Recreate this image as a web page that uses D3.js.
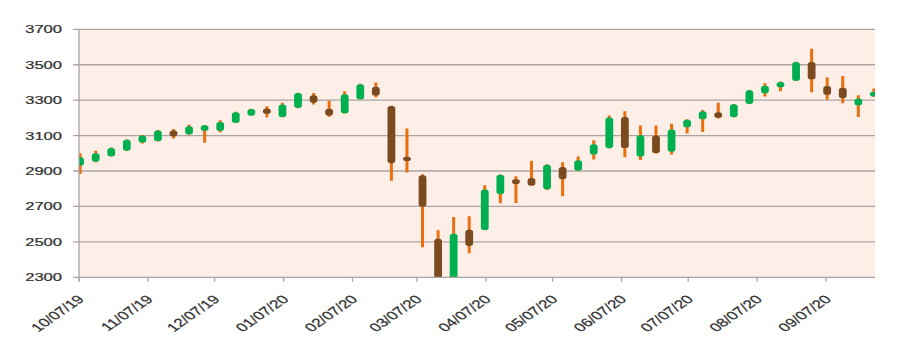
<!DOCTYPE html>
<html>
<head>
<meta charset="utf-8">
<script src="https://cdn.jsdelivr.net/npm/d3@7"></script>
<style>
  html, body { margin: 0; padding: 0; background: #ffffff; }
  svg { display: block; }
  text { font-family: "Liberation Sans", Arial, sans-serif; }
</style>
</head>
<body>
<svg id="chart" width="910" height="357"></svg>
<script>
// ---- data (weekly candles) ----
const dates = [
  "2019-10-07","2019-10-14","2019-10-21","2019-10-28","2019-11-04","2019-11-11","2019-11-18","2019-11-25",
  "2019-12-02","2019-12-09","2019-12-16","2019-12-23","2019-12-30","2020-01-06","2020-01-13","2020-01-20",
  "2020-01-27","2020-02-03","2020-02-10","2020-02-17","2020-02-24","2020-03-02","2020-03-09","2020-03-16",
  "2020-03-23","2020-03-30","2020-04-06","2020-04-13","2020-04-20","2020-04-27","2020-05-04","2020-05-11",
  "2020-05-18","2020-05-25","2020-06-01","2020-06-08","2020-06-15","2020-06-22","2020-06-29","2020-07-06",
  "2020-07-13","2020-07-20","2020-07-27","2020-08-03","2020-08-10","2020-08-17","2020-08-24","2020-08-31",
  "2020-09-07","2020-09-14","2020-09-21","2020-09-28"
];
const open  = [2931,2953,2983,3015,3061,3069,3129,3107,3127,3127,3172,3213,3253,3205,3257,3328,3252,3226,3305,3375,
               3267,2978,2876,2517,2290,2569,2567,2770,2853,2861,2797,2922,2902,2993,3029,3205,2982,3100,3009,3147,
               3192,3232,3204,3279,3339,3373,3409,3516,3380,3370,3271,3320];
const high  = [3000,3014,3033,3078,3104,3132,3137,3161,3160,3186,3234,3252,3266,3285,3342,3341,3297,3350,3392,3400,
               3268,3140,2882,2566,2641,2644,2820,2881,2870,2958,2938,2950,2982,3074,3213,3238,3157,3157,3167,3192,
               3244,3285,3278,3357,3395,3405,3517,3590,3428,3436,3327,3366];
const low   = [2883,2950,2982,3013,3056,3067,3084,3105,3060,3119,3171,3212,3204,3203,3255,3275,3207,3225,3304,3316,
               2845,2892,2470,2280,2190,2436,2566,2718,2720,2817,2793,2758,2900,2965,3028,2978,2962,2999,2993,3112,
               3120,3196,3203,3278,3320,3350,3408,3345,3302,3283,3205,3319];
const close = [2977,3000,3030,3076,3101,3129,3095,3153,3158,3176,3232,3250,3223,3276,3341,3286,3213,3333,3390,3326,
               2944,2958,2699,2296,2546,2477,2795,2879,2827,2818,2936,2854,2961,3051,3202,3030,3102,3001,3134,3190,
               3237,3200,3277,3356,3382,3403,3516,3418,3330,3311,3309,3347];

const yTicks = [2300, 2500, 2700, 2900, 3100, 3300, 3500, 3700];
const xTickLabels = ["10/07/19","11/07/19","12/07/19","01/07/20","02/07/20","03/07/20",
                     "04/07/20","05/07/20","06/07/20","07/07/20","08/07/20","09/07/20"];

// ---- layout ----
const L = 79, R = 875, T = 29.3, B = 277.3;
const svg = d3.select("#chart");
const parse = d3.utcParse("%Y-%m-%d");
const tickParse = d3.utcParse("%m/%d/%y");

const x = d3.scaleUtc()
  .domain([parse("2019-10-07"), parse("2020-09-29")])
  .range([L, R]);
const y = d3.scaleLinear().domain([2300, 3700]).range([B, T]);

const data = dates.map((d, i) => ({
  date: parse(d), o: open[i], h: high[i], l: low[i], c: close[i]
}));

// background
svg.append("rect").attr("x", L).attr("y", T).attr("width", R - L).attr("height", B - T)
  .attr("fill", "#fdeee8");

// clip
svg.append("defs").append("clipPath").attr("id", "plotclip")
  .append("rect").attr("x", L).attr("y", T).attr("width", R - L).attr("height", B - T);

const gridColor = "#aaa5a2";
// gridlines (with outward tick)
svg.append("g").selectAll("line").data(yTicks.filter(v => v !== 2300)).join("line")
  .attr("x1", L - 6).attr("x2", R)
  .attr("y1", d => y(d)).attr("y2", d => y(d))
  .attr("stroke", gridColor).attr("stroke-width", 1.3);

// y-axis labels
const sx = 1.44;
svg.append("g").selectAll("text").data(yTicks).join("text")
  .attr("transform", d => `translate(62,${y(d)}) scale(${sx},1)`)
  .attr("text-anchor", "end")
  .attr("dominant-baseline", "central")
  .attr("font-size", 11.5)
  .attr("fill", "#333333")
  .attr("stroke", "#333333").attr("stroke-width", 0.25)
  .text(d => d);

// candles
const g = svg.append("g").attr("clip-path", "url(#plotclip)");
const cx = d => x(d3.utcHour.offset(d.date, 12));
g.selectAll("line.wick").data(data).join("line")
  .attr("class", "wick")
  .attr("x1", cx).attr("x2", cx)
  .attr("y1", d => y(d.h)).attr("y2", d => y(d.l))
  .attr("stroke", "#ec6f0e").attr("stroke-width", 3);

const bw = 7.8;
g.selectAll("rect.body").data(data).join("rect")
  .attr("class", "body")
  .attr("x", d => cx(d) - bw / 2)
  .attr("width", bw)
  .attr("y", d => {
    const top = y(Math.max(d.o, d.c)), bot = y(Math.min(d.o, d.c));
    const hgt = Math.max(bot - top, 4.2);
    return (top + bot) / 2 - hgt / 2;
  })
  .attr("height", d => Math.max(y(Math.min(d.o, d.c)) - y(Math.max(d.o, d.c)), 4.2))
  .attr("rx", 3.2).attr("ry", 2.6)
  .attr("fill", d => d.c >= d.o ? "#00b050" : "#7c4a1f");

// axes lines
svg.append("line").attr("x1", L).attr("x2", L).attr("y1", T).attr("y2", B + 4)
  .attr("stroke", gridColor).attr("stroke-width", 1.3);
svg.append("line").attr("x1", L - 6).attr("x2", R).attr("y1", B).attr("y2", B)
  .attr("stroke", gridColor).attr("stroke-width", 1.3);

// x ticks & labels
const xt = xTickLabels.map(s => tickParse(s));
svg.append("g").selectAll("line").data(xt).join("line")
  .attr("x1", d => x(d)).attr("x2", d => x(d))
  .attr("y1", B).attr("y2", B + 4.5)
  .attr("stroke", gridColor).attr("stroke-width", 1.3);

const fmt = d3.utcFormat("%m/%d/%y");
svg.append("g").selectAll("text").data(xt).join("text")
  .attr("transform", d => `translate(${x(d) + 6},300) scale(${sx},1) rotate(-45)`)
  .attr("text-anchor", "end")
  .attr("font-size", 11.8)
  .attr("fill", "#333333")
  .attr("stroke", "#333333").attr("stroke-width", 0.25)
  .text(d => fmt(d));
</script>
</body>
</html>
